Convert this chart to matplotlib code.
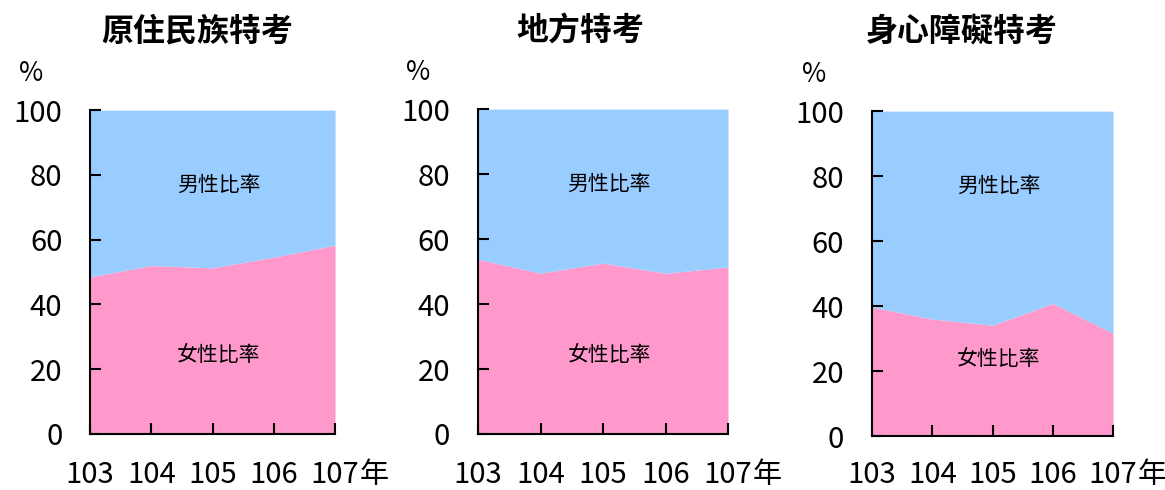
import matplotlib
matplotlib.use('Agg')
import matplotlib.pyplot as plt

plt.rcParams['font.family'] = ['Noto Sans CJK TC', 'DejaVu Sans']

years = [103, 104, 105, 106, 107]
titles = ['原住民族特考', '地方特考', '身心障礙特考']
female = [
    [48.5, 52.0, 51.3, 54.6, 58.3],
    [53.8, 49.5, 52.6, 49.5, 51.4],
    [39.7, 36.0, 34.1, 40.8, 31.6],
]
pink, blue = '#ff99cc', '#99ccff'

fig = plt.figure(figsize=(11.65, 4.9), dpi=100)
boxes = [
    [0.0773, 0.1143, 0.2103, 0.661],
    [0.4103, 0.1143, 0.2146, 0.663],
    [0.7485, 0.1102, 0.2069, 0.663],
]
title_x = [0.169, 0.498, 0.826]
label_y = [(24.4, 77), (24.4, 77), (23.7, 77)]
xpad = [19, 19, 17]

for k, (box, title, f) in enumerate(zip(boxes, titles, female)):
    ax = fig.add_axes(box)
    male_top = [100] * len(years)
    ax.fill_between(years, 0, f, color=pink, lw=0)
    ax.fill_between(years, f, male_top, color=blue, lw=0)
    ax.set_xlim(103, 107)
    ax.set_ylim(0, 100)
    ax.set_yticks(range(0, 101, 20))
    ax.set_xticks(years)
    ax.set_xticklabels([str(y) for y in years])
    for s in ['top', 'right']:
        ax.spines[s].set_visible(False)
    for s in ['left', 'bottom']:
        ax.spines[s].set_linewidth(1.5)
    ax.tick_params(direction='in', length=8, width=1.5, labelsize=21)
    ax.tick_params(axis='y', pad=20)
    ax.tick_params(axis='x', pad=xpad[k])
    for lab in ax.get_xticklabels() + ax.get_yticklabels():
        lab.set_fontweight('medium')
    ax.text(105.1, label_y[k][0], '女性比率', ha='center', va='center',
            fontsize=15, fontweight='medium')
    ax.text(105.1, label_y[k][1], '男性比率', ha='center', va='center',
            fontsize=15, fontweight='medium')
    ax.annotate('年', xy=(1, 0), xycoords='axes fraction', xytext=(18, -xpad[k]),
                textcoords='offset points', ha='left', va='top',
                fontsize=21, fontweight='medium')
    ax.text(-0.24, 1.07, '%', transform=ax.transAxes, ha='center', va='bottom',
            fontsize=19, fontweight='medium')
    fig.text(title_x[k], 0.935, title, ha='center', va='center', fontsize=23, fontweight='bold')

fig.savefig('out.png', dpi=100)
